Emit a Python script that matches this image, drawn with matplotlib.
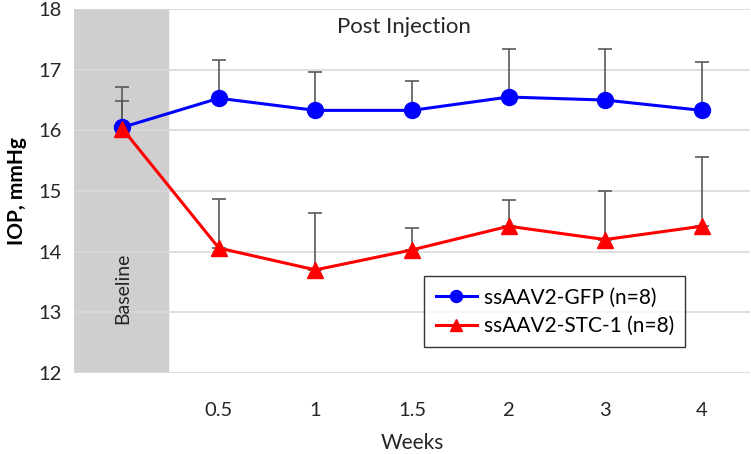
import matplotlib.pyplot as plt
import numpy as np

plt.rcParams['font.family'] = ['Lato', 'DejaVu Sans']

semanas = ["", "0.5", "1", "1.5", "2", "3", "4"]
gfp = [16.05, 16.53, 16.33, 16.33, 16.55, 16.50, 16.33]
gfp_top = [16.71, 17.16, 16.96, 16.81, 17.34, 17.34, 17.12]
stc = [16.03, 14.06, 13.70, 14.03, 14.42, 14.20, 14.42]
stc_top = [16.48, 14.87, 14.63, 14.39, 14.85, 15.00, 15.56]

x = np.arange(len(semanas))

fig = plt.figure(figsize=(7.51, 4.54), dpi=100)
ax = fig.add_axes([0.0985, 0.1784, 0.9002, 0.8016])

ax.axvspan(-0.5, 0.47, color="#d0cece", zorder=0)

gfp_err = [np.zeros(len(gfp)), np.array(gfp_top) - np.array(gfp)]
stc_err = [np.zeros(len(stc)), np.array(stc_top) - np.array(stc)]

ax.errorbar(x, gfp, yerr=gfp_err, fmt="none", ecolor="#595959",
            elinewidth=1.2, capsize=5, capthick=1.2, zorder=2)
ax.errorbar(x, stc, yerr=stc_err, fmt="none", ecolor="#595959",
            elinewidth=1.2, capsize=5, capthick=1.2, zorder=2)

ax.plot(x, gfp, color="blue", marker="o", markersize=11.5, linewidth=2.2,
        label="ssAAV2-GFP (n=8)", zorder=3)
ax.plot(x, stc, color="red", marker="^", markersize=11.5, linewidth=2.2,
        label="ssAAV2-STC-1 (n=8)", zorder=4)

ax.set_xlim(-0.5, 6.5)
ax.set_ylim(12, 18)
ax.set_yticks(range(12, 19))
ax.set_xticks(x)
ax.set_xticklabels(semanas)
ax.tick_params(axis="y", length=0, labelsize=14.5, colors="#262626", pad=9)
ax.tick_params(axis="x", length=0, labelsize=14.5, colors="#262626", pad=21)
ax.grid(axis="y", color="#d9d9d9", linewidth=1.2)
ax.set_axisbelow(True)
for s in ax.spines.values():
    s.set_visible(False)

ax.set_ylabel("IOP, mmHg", fontsize=15, fontweight="bold", labelpad=8)
ax.set_xlabel("Weeks", fontsize=15, color="#262626", labelpad=10)

ax.text(0, 13.4, "Baseline", rotation=90, ha="center", va="center",
        fontsize=14, color="#262626")
ax.text(2.92, 17.70, "Post Injection", ha="center", va="center",
        fontsize=16, color="#262626")

leg = ax.legend(loc="upper left", bbox_to_anchor=(0.518, 0.266), fontsize=15,
                frameon=True, fancybox=False, edgecolor="black",
                handlelength=2.0, handletextpad=0.3, borderpad=0.55,
                labelspacing=0.4, markerscale=0.75, borderaxespad=0)
leg.get_frame().set_linewidth(1.0)
leg.set_zorder(5)

fig.savefig("out.png", dpi=100)
